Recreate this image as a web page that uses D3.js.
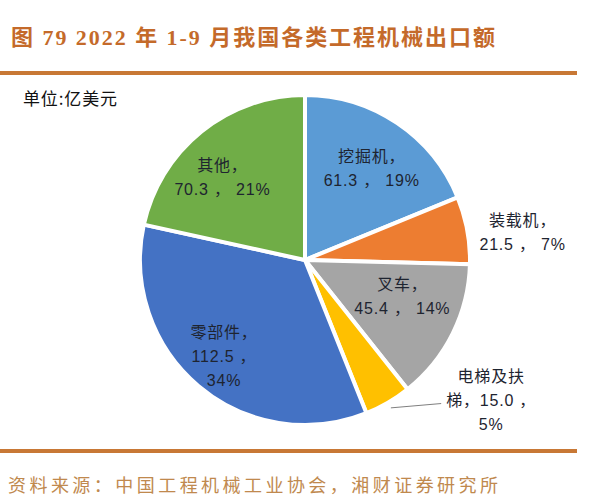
<!DOCTYPE html>
<html>
<head>
<meta charset="utf-8">
<script src="https://cdn.jsdelivr.net/npm/d3@7"></script>
<style>
  body { margin: 0; background: #fff; }
  svg { display: block; }
</style>
</head>
<body>
<div id="chart"></div>
<script>
// data (亿美元)
var categories = ['挖掘机', '装载机', '叉车', '电梯及扶梯', '零部件', '其他']
var values = [61.3, 21.5, 45.4, 15.0, 112.5, 70.3]
var shares = ['19%', '7%', '14%', '5%', '34%', '21%']
var colors = ['#5B9BD5', '#ED7D31', '#A5A5A5', '#FFC000', '#4472C4', '#70AD47']

var title = '图 79 2022 年 1-9 月我国各类工程机械出口额'
var unit = '单位:亿美元'
var source = '资料来源：中国工程机械工业协会，湘财证券研究所'

var width = 613
var height = 500
var cx = 305
var cy = 260
var radius = 165
var labelFont = '"Liberation Sans", "Noto Sans CJK SC", sans-serif'

// where each label sits: fraction of radius, angle nudge in degrees
var labelLayout = {
  '挖掘机': {k: 0.69, turn: 2},
  '装载机': {k: 1.33, turn: 3},
  '叉车': {k: 0.63, turn: -6},
  '电梯及扶梯': {k: 1.41, turn: -23, leader: true},
  '零部件': {k: 0.76, turn: 0},
  '其他': {k: 0.71, turn: -6}
}

function labelLines (d) {
  var name = d.data.name
  var v = d.data.value.toFixed(1)
  if (name == '零部件') return [name + '，', v + ' ，', d.data.share]
  if (name == '电梯及扶梯') return ['电梯及扶', '梯，' + v + ' ，', d.data.share]
  return [name + '，', v + ' ， ' + d.data.share]
}

var rows = categories.map(function (c, i) {
  return {name: c, value: values[i], share: shares[i], color: colors[i]}
})

var svg = d3.select('#chart').append('svg')
    .attr('width', width)
    .attr('height', height)

// header
svg.append('text')
    .attr('x', 11)
    .attr('y', 45)
    .attr('textLength', 484)
    .attr('lengthAdjust', 'spacing')
    .attr('font-family', '"Liberation Serif", "Noto Sans CJK SC", serif')
    .attr('font-weight', 'bold')
    .attr('font-size', '22px')
    .attr('fill', '#C46A2A')
    .text(title)

svg.append('rect')
    .attr('x', 0)
    .attr('y', 71)
    .attr('width', 577)
    .attr('height', 4)
    .attr('fill', '#C87835')

svg.append('text')
    .attr('x', 23)
    .attr('y', 105)
    .attr('textLength', 94)
    .attr('lengthAdjust', 'spacing')
    .attr('font-family', '"Noto Sans CJK SC", sans-serif')
    .attr('font-size', '17px')
    .attr('fill', '#111')
    .text(unit)

// pie
var pie = d3.pie()
    .value(function (d) { return d.value })
    .sort(null)

var arc = d3.arc()
    .innerRadius(0)
    .outerRadius(radius)

var arcs = pie(rows)

var g = svg.append('g')
    .attr('transform', 'translate(' + cx + ',' + cy + ')')

g.selectAll('.slice')
    .data(arcs)
  .enter().append('path')
    .attr('class', 'slice')
    .attr('d', arc)
    .attr('fill', function (d) { return d.data.color })
    .attr('stroke', '#fff')
    .attr('stroke-width', 4)
    .attr('stroke-linejoin', 'round')

// label anchor point for a slice
function labelPoint (d) {
  var lay = labelLayout[d.data.name]
  var a = (d.startAngle + d.endAngle) / 2 + lay.turn * Math.PI / 180
  var r = radius * lay.k
  return [Math.sin(a) * r, -Math.cos(a) * r]
}

// leader line for the small outside slice
arcs.forEach(function (d) {
  if (!labelLayout[d.data.name].leader) return
  var a = (d.startAngle + d.endAngle) / 2
  var p0 = [Math.sin(a) * (radius + 6), -Math.cos(a) * (radius + 6)]
  var p = labelPoint(d)
  g.append('path')
      .attr('d', d3.line()([p0, [p[0] - 50, p[1] + 4]]))
      .attr('stroke', '#7f7f7f')
      .attr('stroke-width', 1)
      .attr('fill', 'none')
})

var lineGap = 24

var label = g.selectAll('.label')
    .data(arcs)
  .enter().append('text')
    .attr('class', 'label')
    .attr('text-anchor', 'middle')
    .attr('font-family', labelFont)
    .attr('font-size', '16px')
    .attr('letter-spacing', '0.8px')
    .attr('fill', '#1e2430')
    .attr('transform', function (d) {
      var p = labelPoint(d)
      var n = labelLines(d).length
      return 'translate(' + p[0] + ',' + (p[1] - (n - 1) * lineGap / 2 + 6) + ')'
    })

label.selectAll('tspan')
    .data(function (d) { return labelLines(d) })
  .enter().append('tspan')
    .attr('x', 0)
    .attr('y', function (d, i) { return i * lineGap })
    .text(function (d) { return d })

// footer
svg.append('rect')
    .attr('x', 0)
    .attr('y', 449)
    .attr('width', 577)
    .attr('height', 4)
    .attr('fill', '#C87835')

svg.append('text')
    .attr('x', 8)
    .attr('y', 492)
    .attr('textLength', 490)
    .attr('lengthAdjust', 'spacing')
    .attr('font-family', '"Noto Sans CJK SC", sans-serif')
    .attr('font-size', '18px')
    .attr('fill', '#C0894E')
    .text(source)
</script>
</body>
</html>
